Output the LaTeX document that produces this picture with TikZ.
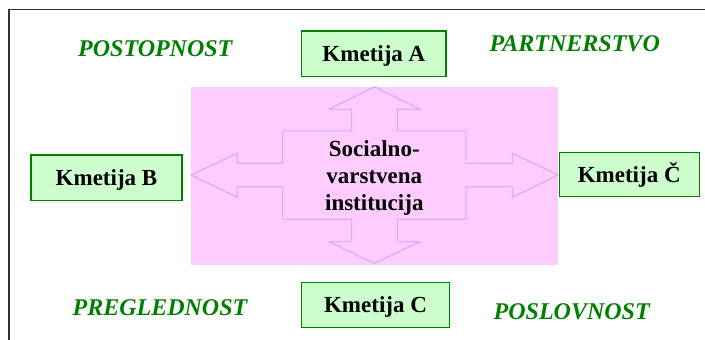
\documentclass[tikz,border=0pt]{standalone}
\usepackage{fontspec}
\setmainfont{Liberation Serif}
\definecolor{boxgreen}{HTML}{008000}
\definecolor{boxfill}{HTML}{CCFFCC}
\definecolor{labgreen}{HTML}{008000}
\definecolor{pinkbg}{HTML}{FFCCFF}
\definecolor{arrowline}{HTML}{CC99FF}
\definecolor{framegray}{HTML}{333333}
\tikzset{
  farm/.style={draw=boxgreen, fill=boxfill, line width=1.3pt, inner sep=0pt,
    font=\fontsize{23}{27}\selectfont\bfseries, text height=15pt, text depth=0pt},
  quality/.style={text=labgreen, font=\fontsize{24}{28}\selectfont\bfseries\itshape, anchor=base, inner sep=0pt},
}
\begin{document}
\begin{tikzpicture}[x=1pt,y=-1pt]
\useasboundingbox (0,0) rectangle (705,340);
\fill[white] (0,0) rectangle (705,340);
% frame
\draw[framegray, line width=1.5pt] (9,345) -- (9,9.7) -- (710,9.7);
% pink background
\fill[pinkbg] (191,87) rectangle (558,264.5);
% four-way arrow
\draw[arrowline, line width=0.8pt, line join=miter]
 (374.3,86.7) -- (420,109.3) -- (397.3,109.3) -- (397.3,131) -- (466,131) -- (466,163.3)
 -- (512.3,163.3) -- (512.3,153.3) -- (558,175) -- (512.3,197.3) -- (512.3,186.7) -- (466,186.7)
 -- (466,219.3) -- (397.3,219.3) -- (397.3,241.7) -- (420,241.7) -- (374.3,263.3) -- (329,241.7)
 -- (351.7,241.7) -- (351.7,219.3) -- (282.7,219.3) -- (282.7,186.7) -- (237.3,186.7) -- (237.3,197.3)
 -- (191,175) -- (237.3,153.3) -- (237.3,163.3) -- (282.7,163.3) -- (282.7,131) -- (351.7,131)
 -- (351.7,109.3) -- (329,109.3) -- cycle;
% center text
\node[align=center, inner sep=0pt, font=\fontsize{23}{27}\selectfont\bfseries] (center) at (374.3,177.5)
  {Socialno-\\varstvena\\institucija};
% farms
\node[farm, minimum width=144.3pt, minimum height=45.7pt] (farmA) at (373.9,53.9) {Kmetija A};
\node[farm, minimum width=151pt, minimum height=45.5pt] (farmB) at (106.5,177.7) {Kmetija B};
\node[farm, minimum width=140pt, minimum height=44pt] (farmCc) at (629.2,174.7) {Kmetija Č};
\node[farm, minimum width=147.6pt, minimum height=45pt] (farmC) at (375.5,305.2) {Kmetija C};
% qualities
\node[quality] (postopnost) at (155.3,56.7) {POSTOPNOST};
\node[quality] (partnerstvo) at (574.7,51.7) {PARTNERSTVO};
\node[quality] (preglednost) at (160,315) {PREGLEDNOST};
\node[quality] (poslovnost) at (571.7,319.3) {POSLOVNOST};
\end{tikzpicture}
\end{document}
